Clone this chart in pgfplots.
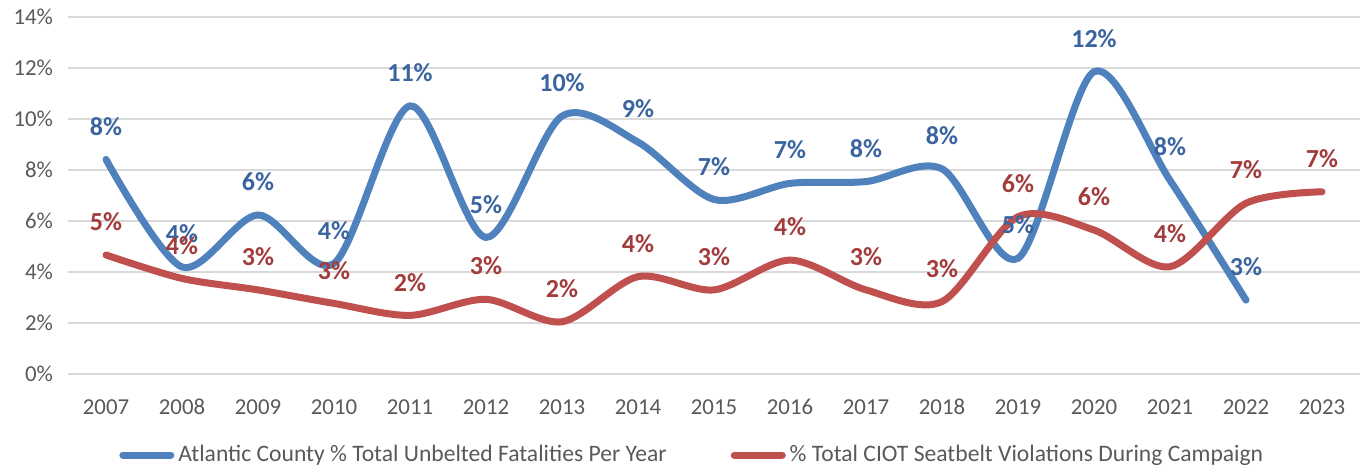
\documentclass[border=0pt]{standalone}
\usepackage{pgfplots}
\pgfplotsset{compat=1.18}
\usepackage{pgfplotstable}
\usepackage{fontspec}
\setmainfont{Carlito}
\definecolor{ablue}{HTML}{4F81BD}
\definecolor{ared}{HTML}{C0504D}
\definecolor{lblue}{HTML}{3A64A0}
\definecolor{lred}{HTML}{A23B3B}
\definecolor{tickgray}{HTML}{595959}
\definecolor{gridgray}{HTML}{D9D9D9}
\pgfplotstableread{
x y lbl
0 8.42 8
1 4.20 4
2 6.24 6
3 4.34 4
4 10.52 11
5 5.36 5
6 10.12 10
7 9.10 9
8 6.85 7
9 7.48 7
10 7.55 8
11 8.05 8
12 4.54 5
13 11.86 12
14 7.60 8
15 2.90 3
}\bluedata
\pgfplotstableread{
x y lbl
0 4.67 5
1 3.75 4
2 3.30 3
3 2.77 3
4 2.30 2
5 2.93 3
6 2.05 2
7 3.82 4
8 3.30 3
9 4.47 4
10 3.30 3
11 2.84 3
12 6.17 6
13 5.65 6
14 4.21 4
15 6.70 7
16 7.15 7
}\reddata
\begin{document}
\begin{tikzpicture}
\useasboundingbox (-34pt,-47pt) rectangle (647pt,187pt);
\begin{axis}[
  at={(0pt,0pt)}, anchor=south west,
  scale only axis,
  width=646pt, height=178.4pt,
  xmin=-0.5, xmax=16.5,
  ymin=0, ymax=14,
  xtick={0,...,16},
  xticklabels={2007,2008,2009,2010,2011,2012,2013,2014,2015,2016,2017,2018,2019,2020,2021,2022,2023},
  ytick={0,2,...,14},
  yticklabel={\pgfmathprintnumber{\tick}\%},
  /pgf/number format/assume math mode=true,
  axis line style={draw=none},
  major tick length=0pt,
  ymajorgrids,
  grid style={gridgray, line width=0.8pt},
  tick label style={font=\fontsize{11.4}{13}\selectfont, text=tickgray},
  xticklabel style={anchor=base, yshift=-20pt},
  yticklabel style={xshift=-4pt},
  clip=false,
  legend columns=2,
  legend style={draw=none, fill=none, at={(0.484,-0.227)}, anchor=center,
    font=\fontsize{11.8}{13}\selectfont, text=tickgray,
    /tikz/every even column/.append style={column sep=30pt}},
  legend image code/.code={\draw[#1, line width=3.5pt, line cap=round] (0pt,0pt) -- (24pt,0pt);},
  nodes near coords={\pgfplotspointmeta\%},
  point meta=explicit symbolic,
]
\addplot[ablue, line width=3.5pt, smooth, line cap=round,
  nodes near coords style={font=\bfseries\fontsize{13}{14}\selectfont, text=lblue, anchor=south, yshift=7pt}]
  table[x=x, y=y, meta=lbl] {\bluedata};
\addlegendentry{Atlantic County \% Total Unbelted Fatalities Per Year}
\addplot[ared, line width=3.5pt, smooth, line cap=round,
  nodes near coords style={font=\bfseries\fontsize{13}{14}\selectfont, text=lred, anchor=south, yshift=7pt}]
  table[x=x, y=y, meta=lbl] {\reddata};
\addlegendentry{\% Total CIOT Seatbelt Violations During Campaign}
\end{axis}
\end{tikzpicture}
\end{document}
